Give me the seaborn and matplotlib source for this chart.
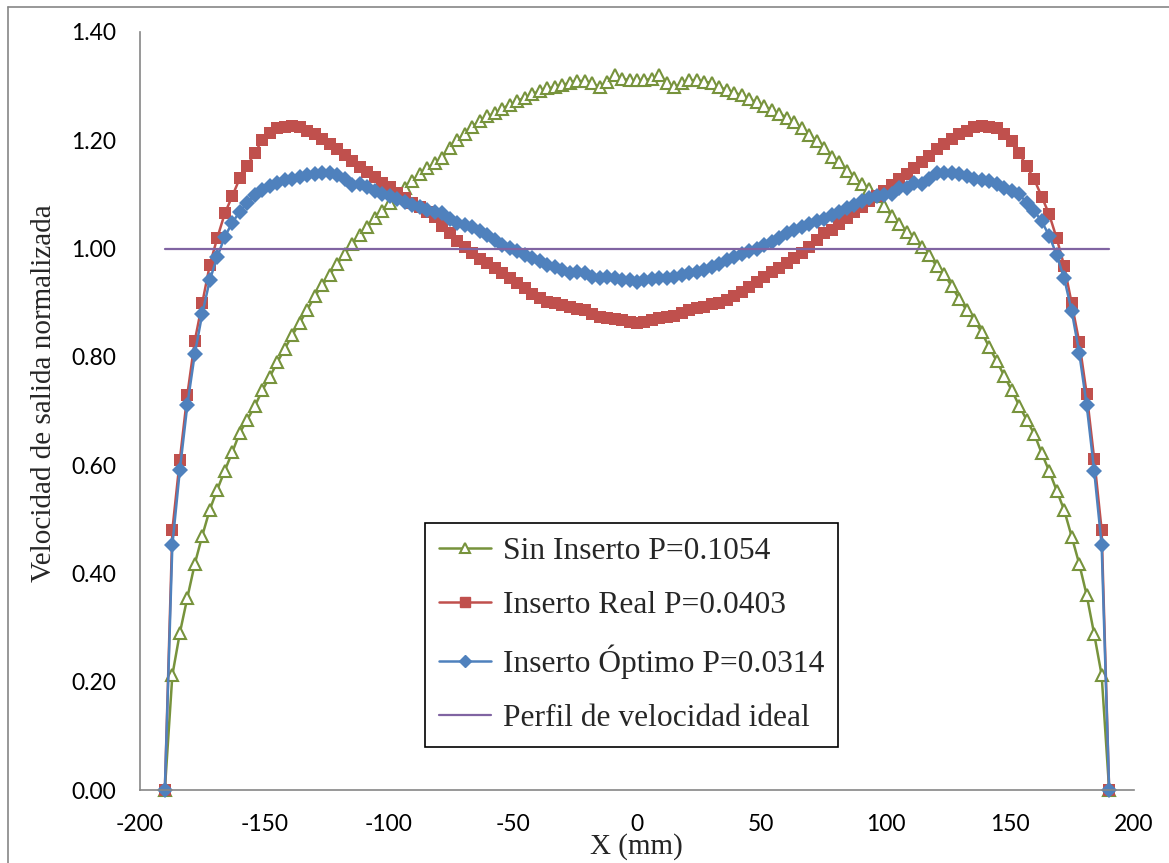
import numpy as np
import pandas as pd
import matplotlib
matplotlib.use('Agg')
import matplotlib.pyplot as plt
import seaborn as sns
from matplotlib.lines import Line2D

# posiciones de muestreo (mm), 127 puntos entre las paredes
x_mm = np.linspace(-190, 190, 127)

sin_inserto = [
    0.00, 0.212, 0.29, 0.355, 0.418, 0.47, 0.518, 0.555, 0.59, 0.624,
    0.66, 0.684, 0.709, 0.738, 0.763, 0.79, 0.815, 0.84, 0.863, 0.887,
    0.912, 0.932, 0.952, 0.972, 0.99, 1.008, 1.025, 1.04, 1.056, 1.07,
    1.085, 1.10, 1.112, 1.125, 1.137, 1.148, 1.158, 1.168, 1.185, 1.20,
    1.212, 1.225, 1.236, 1.244, 1.25, 1.258, 1.266, 1.272, 1.279, 1.285,
    1.291, 1.296, 1.298, 1.302, 1.306, 1.31, 1.309, 1.305, 1.298, 1.308,
    1.32, 1.314, 1.311, 1.311,
    1.311, 1.314, 1.32, 1.305, 1.298, 1.305, 1.311, 1.311, 1.308, 1.306,
    1.298, 1.293, 1.288, 1.283, 1.276, 1.27, 1.263, 1.256, 1.249, 1.242,
    1.233, 1.222, 1.21, 1.198, 1.185, 1.17, 1.16, 1.143, 1.13, 1.12,
    1.11, 1.098, 1.078, 1.06, 1.045, 1.031, 1.02, 1.002, 0.988, 0.967,
    0.953, 0.93, 0.907, 0.886, 0.868, 0.845, 0.818, 0.792, 0.765, 0.738,
    0.71, 0.683, 0.658, 0.622, 0.589, 0.553, 0.517, 0.468, 0.418, 0.36,
    0.288, 0.212, 0.00,
]

inserto_real = [
    0.00, 0.48, 0.61, 0.73, 0.83, 0.90, 0.97, 1.02, 1.065, 1.097,
    1.13, 1.153, 1.177, 1.20, 1.213, 1.222, 1.225, 1.226, 1.224, 1.218,
    1.211, 1.203, 1.194, 1.184, 1.172, 1.161, 1.151, 1.141, 1.132, 1.122,
    1.113, 1.103, 1.094, 1.085, 1.076, 1.067, 1.058, 1.042, 1.029, 1.014,
    1.002, 0.991, 0.98, 0.973, 0.964, 0.955, 0.946, 0.937, 0.927, 0.917,
    0.908, 0.902, 0.899, 0.896, 0.892, 0.889, 0.886, 0.880, 0.874, 0.871,
    0.870, 0.868, 0.865, 0.862,
    0.865, 0.868, 0.871, 0.873, 0.876, 0.881, 0.886, 0.89, 0.893, 0.897,
    0.90, 0.905, 0.913, 0.92, 0.929, 0.938, 0.947, 0.956, 0.965, 0.974,
    0.982, 0.992, 1.003, 1.015, 1.028, 1.035, 1.045, 1.056, 1.067, 1.077,
    1.087, 1.097, 1.107, 1.117, 1.128, 1.138, 1.149, 1.16, 1.171, 1.183,
    1.194, 1.203, 1.211, 1.218, 1.224, 1.226, 1.225, 1.222, 1.212, 1.198,
    1.176, 1.152, 1.128, 1.096, 1.063, 1.019, 0.968, 0.899, 0.828, 0.732,
    0.612, 0.48, 0.00,
]

inserto_optimo = [
    0.00, 0.452, 0.591, 0.711, 0.806, 0.88, 0.942, 0.985, 1.022, 1.048,
    1.068, 1.085, 1.099, 1.108, 1.115, 1.121, 1.126, 1.129, 1.132, 1.135,
    1.138, 1.140, 1.140, 1.136, 1.128, 1.118, 1.12, 1.113, 1.107, 1.10,
    1.097, 1.092, 1.086, 1.08, 1.076, 1.072, 1.068, 1.065, 1.055, 1.048,
    1.044, 1.04, 1.033, 1.025, 1.016, 1.007, 1.001, 0.995, 0.989, 0.983,
    0.977, 0.97, 0.966, 0.961, 0.955, 0.957, 0.954, 0.948, 0.945, 0.948,
    0.945, 0.942, 0.942, 0.939,
    0.942, 0.944, 0.945, 0.945, 0.947, 0.952, 0.955, 0.957, 0.961, 0.966,
    0.971, 0.978, 0.984, 0.99, 0.995, 1.00, 1.006, 1.013, 1.02, 1.028,
    1.034, 1.04, 1.045, 1.05, 1.055, 1.062, 1.067, 1.075, 1.081, 1.088,
    1.094, 1.098, 1.099, 1.101, 1.111, 1.111, 1.121, 1.12, 1.128, 1.14,
    1.14, 1.139, 1.137, 1.134, 1.129, 1.127, 1.124, 1.119, 1.112, 1.106,
    1.10, 1.085, 1.07, 1.05, 1.024, 0.988, 0.945, 0.885, 0.808, 0.711,
    0.59, 0.452, 0.00,
]

ideal_x = [-190, 190]
ideal_v = [1.0, 1.0]

labels = ['Sin Inserto P=0.1054', 'Inserto Real P=0.0403',
          'Inserto Óptimo P=0.0314', 'Perfil de velocidad ideal']
x_ticks = [-200, -150, -100, -50, 0, 50, 100, 150, 200]
y_ticks = [0.0, 0.2, 0.4, 0.6, 0.8, 1.0, 1.2, 1.4]

green = '#77933C'
red = '#C0504D'
blue = '#4F81BD'
purple = '#8064A2'
axis_gray = '#868686'

sns.set_style('white')
plt.rcParams['font.family'] = ['Lato', 'DejaVu Sans']

fig = plt.figure(figsize=(11.69, 8.63), dpi=100)
ax = fig.add_axes([140 / 1169, 1 - 790 / 863, 994 / 1169, 758 / 863])

df = pd.DataFrame({'x': x_mm, 'sin': sin_inserto, 'real': inserto_real, 'opt': inserto_optimo})

sns.lineplot(data=df, x='x', y='sin', ax=ax, sort=False, estimator=None, color=green,
             lw=1.8, marker='^', ms=8.5, mfc='white', mec=green, mew=1.5, clip_on=False)
sns.lineplot(data=df, x='x', y='real', ax=ax, sort=False, estimator=None, color=red,
             lw=1.8, marker='s', ms=8.5, mfc=red, mec=red, mew=0, clip_on=False)
sns.lineplot(data=df, x='x', y='opt', ax=ax, sort=False, estimator=None, color=blue,
             lw=1.8, marker='D', ms=7.8, mfc=blue, mec=blue, mew=0, clip_on=False)
sns.lineplot(x=ideal_x, y=ideal_v, ax=ax, color=purple, lw=1.6)

ax.set_xlim(-200, 200)
ax.set_ylim(0, 1.4)
ax.set_xticks(x_ticks)
ax.set_xticklabels([str(v) for v in x_ticks])
ax.set_yticks(y_ticks)
ax.set_yticklabels([f'{v:.2f}' for v in y_ticks])
ax.set_xlabel('')
ax.set_ylabel('')

for side in ['top', 'right']:
    ax.spines[side].set_visible(False)
for side in ['left', 'bottom']:
    ax.spines[side].set_color(axis_gray)
    ax.spines[side].set_linewidth(1.2)
ax.tick_params(direction='in', length=6, width=1.2, color=axis_gray,
               labelsize=16.5, labelcolor='black', pad=17)

serif = 'Liberation Serif'
fig.text(44 / 1169, 1 - 393 / 863, 'Velocidad de salida normalizada', rotation=90,
         ha='center', va='center', family=serif, fontsize=21)
fig.text(636 / 1169, 1 - 854 / 863, 'X (mm)', ha='center', va='baseline',
         family=serif, fontsize=21)

handles = [
    Line2D([], [], color=green, lw=1.8, marker='^', ms=7, mfc='white', mec=green, mew=1.5),
    Line2D([], [], color=red, lw=1.8, marker='s', ms=7, mfc=red, mec=red),
    Line2D([], [], color=blue, lw=1.8, marker='D', ms=6, mfc=blue, mec=blue),
    Line2D([], [], color=purple, lw=1.6),
]
leg = ax.legend(handles, labels, loc='upper left', bbox_to_anchor=(0.287, 0.352),
                prop={'family': serif, 'size': 22.7}, frameon=True, fancybox=False,
                framealpha=1, edgecolor='black', borderpad=0.45, handlelength=1.65,
                handletextpad=0.35, labelspacing=0.78, borderaxespad=0)
leg.get_frame().set_linewidth(1.2)

# borde del area del grafico
fig.add_artist(Line2D([8 / 1169, 8 / 1169], [0, 1 - 7 / 863], transform=fig.transFigure,
                      color=axis_gray, lw=1.2))
fig.add_artist(Line2D([8 / 1169, 1], [1 - 7 / 863, 1 - 7 / 863], transform=fig.transFigure,
                      color=axis_gray, lw=1.2))

fig.savefig('out.png', dpi=100)
